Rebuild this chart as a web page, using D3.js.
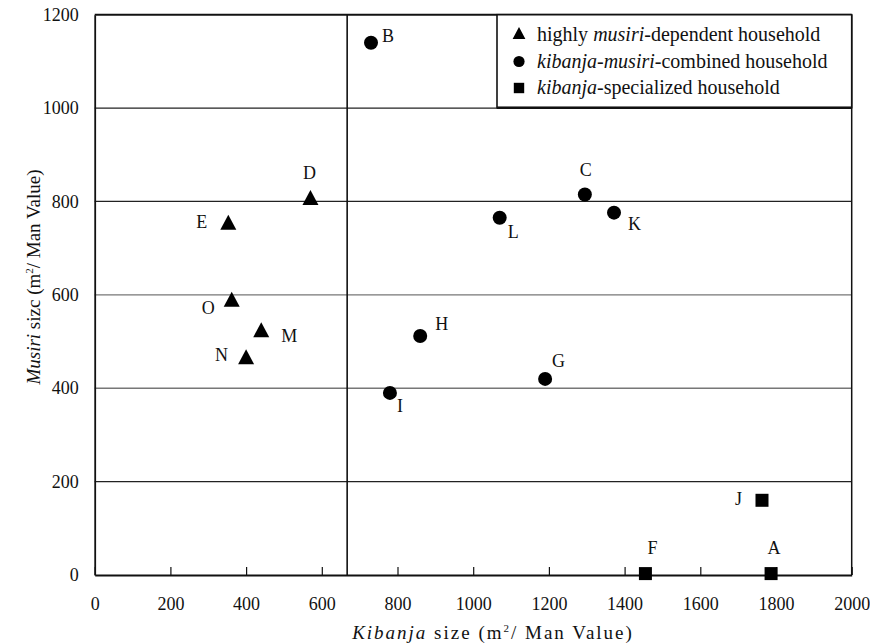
<!DOCTYPE html>
<html>
<head>
<meta charset="utf-8">
<script src="https://cdn.jsdelivr.net/npm/d3@7"></script>
<style>
body { margin: 0; background: #fff; }
text { font-family: "Liberation Serif", "Times New Roman", serif; fill: #111; }
</style>
</head>
<body>
<script>
// household data
var labels  = ['A','B','C','D','E','F','G','H','I','J','K','L','M','N','O'];
var kibanja = [1787, 730, 1295, 570, 353, 1455, 1190, 860, 780, 1763, 1372, 1070, 440, 400, 362];
var musiri  = [3, 1140, 815, 803, 750, 3, 420, 512, 390, 160, 776, 765, 520, 462, 585];
var types   = ['spec','comb','comb','dep','dep','spec','comb','comb','comb','spec','comb','comb','dep','dep','dep'];

var xTicks = [0,200,400,600,800,1000,1200,1400,1600,1800,2000];
var yTicks = [0,200,400,600,800,1000,1200];
var gridY  = [200,400,600,800,1000];
var divideX = 667;

// where each letter sits relative to its marker
var labelPos = {
  A:[3,-20,'middle'], B:[11,-1,'start'], C:[1,-18,'middle'], D:[-1,-21,'middle'],
  E:[-21,3,'end'], F:[7,-20,'middle'], G:[7,-12,'start'], H:[15,-6,'start'],
  I:[10,19,'middle'], J:[-20,5,'end'], K:[14,17,'start'], L:[8,20,'start'],
  M:[20,10,'start'], N:[-18,2,'end'], O:[-17,12,'end']
};

var svg = d3.select('body').append('svg').attr('width',870).attr('height',644);

var x = d3.scaleLinear().domain([0,2000]).range([94.7,851.7]);
var y = d3.scaleLinear().domain([0,1200]).range([575,14.7]);

function marker(sel, t, s) {
  if (t == 'dep') {
    sel.append('path').attr('d','M0,'+(-10*s)+'L'+(8*s)+','+(5*s)+'L'+(-8*s)+','+(5*s)+'Z');
  } else if (t == 'comb') {
    sel.append('circle').attr('r',7*s);
  } else {
    sel.append('rect').attr('x',-6.5*s).attr('y',-6.5*s).attr('width',13*s).attr('height',13*s);
  }
}

// gridlines
svg.selectAll('.grid').data(gridY).enter().append('line')
  .attr('x1',x(0)).attr('x2',x(2000))
  .attr('y1',d=>y(d)).attr('y2',d=>y(d))
  .style('stroke', d => (d==400 || d==600) ? '#777' : '#222')
  .style('stroke-width',1.3);

// vertical divider
svg.append('line')
  .attr('x1',x(divideX)).attr('x2',x(divideX))
  .attr('y1',y(1200)).attr('y2',y(0))
  .style('stroke','#111').style('stroke-width',1.6);

// frame
svg.append('line').attr('x1',x(0)).attr('x2',x(2000)).attr('y1',y(1200)).attr('y2',y(1200))
  .style('stroke','#111').style('stroke-width',2);
svg.append('line').attr('x1',x(2000)).attr('x2',x(2000)).attr('y1',y(1200)).attr('y2',y(0))
  .style('stroke','#111').style('stroke-width',1.5);

// x axis, ticks pointing inward
var xAxis = d3.axisBottom(x).tickValues(xTicks).tickFormat(d3.format('d'))
  .tickSizeInner(-8).tickSizeOuter(0).tickPadding(22);
var gx = svg.append('g').attr('transform','translate(0,'+y(0)+')').call(xAxis)
  .attr('font-family',null).attr('font-size',null);
gx.select('.domain').style('stroke','#111').style('stroke-width',1.8);
gx.selectAll('.tick line').style('stroke','#111').style('stroke-width',1.2);
gx.selectAll('text').style('font-size','18px').attr('fill','#111');

// y axis, no tick marks
var yAxis = d3.axisLeft(y).tickValues(yTicks).tickFormat(d3.format('d')).tickSize(0).tickPadding(16);
var gy = svg.append('g').attr('transform','translate('+x(0)+',0)').call(yAxis)
  .attr('font-family',null).attr('font-size',null);
gy.select('.domain').style('stroke','#111').style('stroke-width',1.8);
gy.selectAll('text').style('font-size','18px').attr('fill','#111');

// points
for (let i=0; i<labels.length; i++) {
  var g = svg.append('g').attr('transform','translate('+x(kibanja[i])+','+y(musiri[i])+')').attr('fill','#000');
  marker(g, types[i], 1);
  var p = labelPos[labels[i]];
  svg.append('text')
    .text(labels[i])
    .attr('x', x(kibanja[i]) + p[0])
    .attr('y', y(musiri[i]) + p[1])
    .attr('text-anchor', p[2])
    .style('font-size','18px');
}

// legend
svg.append('rect').attr('x',497).attr('y',y(1200)).attr('width',x(2000)-497).attr('height',93)
  .attr('fill','#fff').style('stroke','#111').style('stroke-width',1.6);
svg.append('line').attr('x1',497).attr('x2',x(2000)).attr('y1',y(1200)+93).attr('y2',y(1200)+93)
  .style('stroke','#111').style('stroke-width',2.6);

var legendRows = [
  {t:'dep',  parts:[['highly ',false],['musiri',true],['-dependent household',false]]},
  {t:'comb', parts:[['kibanja-musiri',true],['-combined household',false]]},
  {t:'spec', parts:[['kibanja',true],['-specialized household',false]]}
];
legendRows.forEach(function(r,i){
  var cy = 35 + i*26.5;
  var g = svg.append('g').attr('transform','translate(519,'+cy+')').attr('fill','#000');
  marker(g, r.t, 0.8);
  var tx = svg.append('text').attr('x',537).attr('y',cy+6).style('font-size','20px');
  r.parts.forEach(function(p){
    tx.append('tspan').text(p[0]).style('font-style', p[1] ? 'italic' : 'normal');
  });
});

// axis titles
var xt = svg.append('text').attr('x',493).attr('y',639).attr('text-anchor','middle')
  .style('font-size','19px').style('letter-spacing','2px');
xt.append('tspan').text('Kibanja').style('font-style','italic');
xt.append('tspan').text(' size (m');
xt.append('tspan').text('2').attr('dy',-7).style('font-size','11px');
xt.append('tspan').text('/ Man Value)').attr('dy',7);

var yt = svg.append('text').attr('transform','translate(40,277) rotate(-90)').attr('text-anchor','middle').style('font-size','19px');
yt.append('tspan').text('Musiri').style('font-style','italic');
yt.append('tspan').text(' sizc (m');
yt.append('tspan').text('2').attr('dy',-7).style('font-size','11px');
yt.append('tspan').text('/ Man Value)').attr('dy',7);
</script>
</body>
</html>
